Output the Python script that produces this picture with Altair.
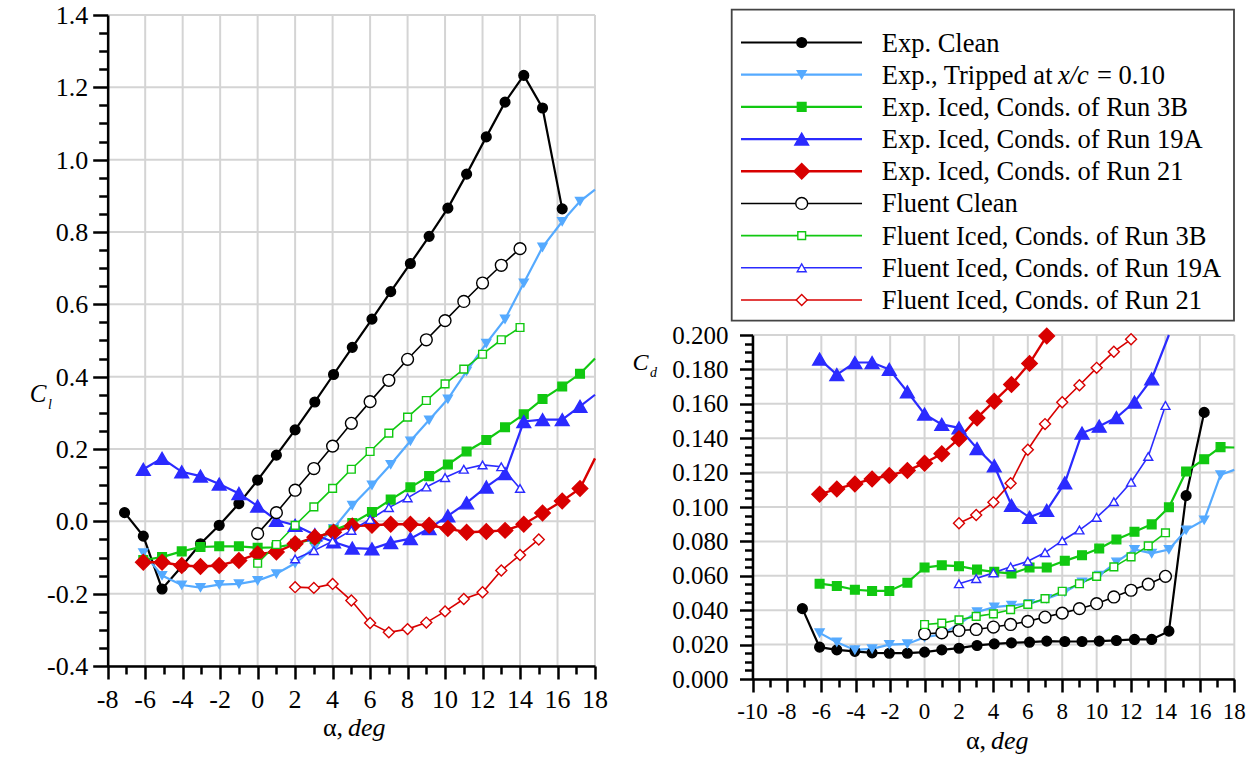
import altair as alt
import pandas as pd

# ---------------- data ----------------
SERIES = [
    "Exp. Clean",
    "Exp., Tripped at x/c = 0.10",
    "Exp. Iced, Conds. of Run 3B",
    "Exp. Iced, Conds. of Run 19A",
    "Exp. Iced, Conds. of Run 21",
    "Fluent Clean",
    "Fluent Iced, Conds. of Run 3B",
    "Fluent Iced, Conds. of Run 19A",
    "Fluent Iced, Conds. of Run 21",
]
COLORS = ["#000000", "#55aaff", "#11c811", "#2b2bff", "#d80000",
          "#000000", "#11c811", "#2b2bff", "#d80000"]
SHAPES = ["circle", "triangle-down", "square", "triangle-up", "diamond",
          "circle", "square", "triangle-up", "diamond"]
FILLS = ["#000000", "#55aaff", "#11c811", "#2b2bff", "#d80000",
         "#ffffff", "#ffffff", "#ffffff", "#ffffff"]
SIZES = [95, 80, 75, 190, 240, 140, 60, 80, 120]
WIDTHS = [2.2, 2.2, 2.2, 2.2, 2.4, 1.6, 1.6, 1.6, 1.6]

# corrected experimental angles (nominal -7 ... 17)
EXP_ALPHA = [-7.1, -6.1, -5.1, -4.05, -3.05, -2.05, -1.0, 0.0, 1.0, 2.0, 3.05,
             4.05, 5.05, 6.1, 7.1, 8.15, 9.15, 10.15, 11.15, 12.2, 13.2, 14.2,
             15.2, 16.25, 17.2]
EDGE = [18.0]

CL_EXP_CLEAN = [0.024, -0.041, -0.187, -0.125, -0.062, -0.011, 0.049, 0.114, 0.183,
                0.253, 0.33, 0.406, 0.481, 0.559, 0.635, 0.713, 0.788, 0.866, 0.96,
                1.063, 1.159, 1.233, 1.143, 0.864]
CD_EXP_CLEAN = [0.0409, 0.0185, 0.0169, 0.0161, 0.0152, 0.015, 0.015, 0.0156, 0.0169,
                0.0179, 0.0195, 0.0204, 0.021, 0.0214, 0.022, 0.0218, 0.0218, 0.022,
                0.0224, 0.023, 0.023, 0.0278, 0.1066, 0.155]

CL_TRIP = [-0.087, -0.15, -0.176, -0.183, -0.175, -0.173, -0.164, -0.145, -0.116,
           -0.071, -0.02, 0.044, 0.1, 0.157, 0.222, 0.28, 0.338, 0.415, 0.492, 0.559,
           0.659, 0.758, 0.829, 0.885, 0.917]
CD_TRIP = [0.0268, 0.0214, 0.0169, 0.0175, 0.02, 0.0204, 0.0243, 0.0259, 0.032, 0.039,
           0.0418, 0.0428, 0.0438, 0.0467, 0.0506, 0.0564, 0.0603, 0.068, 0.0753,
           0.073, 0.0753, 0.0866, 0.0924, 0.1187, 0.1216]

CL_EXP_3B = [-0.107, -0.099, -0.083, -0.071, -0.069, -0.069, -0.073, -0.072, -0.062,
             -0.048, -0.025, -0.005, 0.026, 0.06, 0.094, 0.125, 0.157, 0.193, 0.225,
             0.26, 0.296, 0.338, 0.373, 0.408, 0.45]
CD_EXP_3B = [0.0554, 0.0541, 0.0519, 0.0512, 0.0512, 0.056, 0.0648, 0.0661, 0.0656,
             0.0636, 0.0623, 0.0613, 0.0648, 0.0648, 0.0687, 0.072, 0.0759, 0.0811,
             0.0856, 0.0899, 0.0998, 0.1206, 0.1278, 0.1348, 0.1346]

CL_EXP_19A = [0.144, 0.174, 0.137, 0.125, 0.103, 0.077, 0.042, 0.003, -0.011, -0.037,
              -0.057, -0.074, -0.076, -0.059, -0.048, -0.02, 0.015, 0.051, 0.095,
              0.132, 0.276, 0.281, 0.281, 0.318, 0.35]
CD_EXP_19A = [0.186, 0.177, 0.184, 0.184, 0.18, 0.167, 0.154, 0.148, 0.146, 0.134,
              0.124, 0.101, 0.094, 0.098, 0.114, 0.143, 0.147, 0.152, 0.161, 0.1745,
              0.205]

CL_EXP_21 = [-0.113, -0.113, -0.122, -0.125, -0.122, -0.108, -0.09, -0.085, -0.062,
             -0.044, -0.03, -0.013, -0.011, -0.008, -0.008, -0.011, -0.02, -0.03,
             -0.028, -0.025, -0.008, 0.023, 0.056, 0.091, 0.174]
CD_EXP_21 = [0.1074, 0.1105, 0.1134, 0.1163, 0.1183, 0.1212, 0.1255, 0.1309, 0.1397,
             0.1518, 0.1615, 0.1712, 0.1835, 0.1994]

CL_FL_CLEAN = [-0.034, 0.024, 0.086, 0.146, 0.208, 0.271, 0.331, 0.39, 0.448, 0.502,
               0.555, 0.608, 0.659, 0.708, 0.754]
CD_FL_CLEAN = [0.0263, 0.0268, 0.0282, 0.0288, 0.0302, 0.0317, 0.0335, 0.036, 0.0383,
               0.0409, 0.0438, 0.0477, 0.0516, 0.0551, 0.0597]

CL_FL_3B = [-0.116, -0.064, -0.011, 0.04, 0.091, 0.144, 0.193, 0.244, 0.288, 0.334,
            0.38, 0.421, 0.462, 0.502, 0.536]
CD_FL_3B = [0.0317, 0.0325, 0.0344, 0.0364, 0.0379, 0.0403, 0.0434, 0.0467, 0.051,
            0.0554, 0.0597, 0.0652, 0.071, 0.0774, 0.085]

CL_FL_19A = [-0.104, -0.081, -0.055, -0.025, 0.005, 0.038, 0.065, 0.095, 0.121, 0.144,
             0.156, 0.151, 0.091]
CD_FL_19A = [0.0554, 0.0584, 0.0617, 0.0652, 0.0685, 0.0735, 0.0804, 0.0866, 0.094,
             0.1031, 0.1144, 0.1294, 0.159]

CL_FL_21 = [-0.182, -0.184, -0.173, -0.219, -0.281, -0.307, -0.298, -0.28, -0.249,
            -0.215, -0.196, -0.136, -0.093, -0.05]
CD_FL_21 = [0.0905, 0.0953, 0.1027, 0.1138, 0.1333, 0.1482, 0.1609, 0.1708, 0.1809,
            0.1903, 0.1975]

FL_A0_14 = list(range(0, 15))
FL_A2_14 = list(range(2, 15))
FL_A2_15 = list(range(2, 16))
FL_A2_12 = list(range(2, 13))

CL_SETS = [
    (SERIES[0], EXP_ALPHA[0:24], CL_EXP_CLEAN),
    (SERIES[1], EXP_ALPHA[1:25] + EDGE, CL_TRIP),
    (SERIES[2], EXP_ALPHA[1:25] + EDGE, CL_EXP_3B),
    (SERIES[3], EXP_ALPHA[1:25] + EDGE, CL_EXP_19A),
    (SERIES[4], EXP_ALPHA[1:25] + EDGE, CL_EXP_21),
    (SERIES[5], FL_A0_14, CL_FL_CLEAN),
    (SERIES[6], FL_A0_14, CL_FL_3B),
    (SERIES[7], FL_A2_14, CL_FL_19A),
    (SERIES[8], FL_A2_15, CL_FL_21),
]
CD_SETS = [
    (SERIES[0], EXP_ALPHA[0:24], CD_EXP_CLEAN),
    (SERIES[1], EXP_ALPHA[1:25] + EDGE, CD_TRIP),
    (SERIES[2], EXP_ALPHA[1:25] + EDGE, CD_EXP_3B),
    (SERIES[3], EXP_ALPHA[1:22], CD_EXP_19A),
    (SERIES[4], EXP_ALPHA[1:15], CD_EXP_21),
    (SERIES[5], FL_A0_14, CD_FL_CLEAN),
    (SERIES[6], FL_A0_14, CD_FL_3B),
    (SERIES[7], FL_A2_14, CD_FL_19A),
    (SERIES[8], FL_A2_12, CD_FL_21),
]

LEGEND_TEXT = ["Exp. Clean", "Exp., Tripped at", "Exp. Iced, Conds. of Run 3B",
               "Exp. Iced, Conds. of Run 19A", "Exp. Iced, Conds. of Run 21",
               "Fluent Clean", "Fluent Iced, Conds. of Run 3B",
               "Fluent Iced, Conds. of Run 19A", "Fluent Iced, Conds. of Run 21"]

# ticks, grid lines and tick labels
CL_XTICKS = list(range(-8, 19))
CL_YTICKS = [round(-0.4 + 0.05 * i, 2) for i in range(37)]
CL_GRID_X = list(range(-8, 19, 2))
CL_GRID_Y = [round(-0.4 + 0.2 * i, 1) for i in range(10)]
CL_X_LABELS = ["-8", "-6", "-4", "-2", "0", "2", "4", "6", "8", "10", "12", "14", "16", "18"]
CL_Y_LABELS = ["-0.4", "-0.2", "0.0", "0.2", "0.4", "0.6", "0.8", "1.0", "1.2", "1.4"]
CD_XTICKS = list(range(-10, 19))
CD_YTICKS = [round(0.005 * i, 3) for i in range(41)]
CD_GRID_X = list(range(-10, 19, 2))
CD_GRID_Y = [round(0.02 * i, 2) for i in range(11)]
CD_X_LABELS = ["-10", "-8", "-6", "-4", "-2", "0", "2", "4", "6", "8", "10", "12", "14",
               "16", "18"]
CD_Y_LABELS = ["0.000", "0.020", "0.040", "0.060", "0.080", "0.100", "0.120", "0.140",
               "0.160", "0.180", "0.200"]


def long_df(sets):
    rows = []
    for name, al, vals in sets:
        for a, v in zip(al, vals):
            rows.append({"series": name, "alpha": a, "value": v})
    return pd.DataFrame(rows)


cl_df = long_df(CL_SETS)
cd_df = long_df(CD_SETS)

# ---------------- styling ----------------
FONT = "Liberation Serif"
GRID = "#d4d4d4"
W, H = 1260, 759


def major_test(step):
    return f"abs(datum.value/{step} - round(datum.value/{step})) < 0.001"


def make_axis(orient, offset, values, step, major_len, minor_len):
    t = major_test(step)
    return alt.Axis(
        orient=orient, offset=offset, values=values, grid=False, title=None,
        labels=False,
        tickSize={"condition": {"test": t, "value": major_len}, "value": minor_len},
        tickWidth=2.5, tickColor="black", domainColor="black", domainWidth=2.5,
        zindex=1,
    )


color_enc = alt.Color("series:N", scale=alt.Scale(domain=SERIES, range=COLORS), legend=None)
width_enc = alt.StrokeWidth("series:N", scale=alt.Scale(type="ordinal", domain=SERIES, range=WIDTHS), legend=None)
shape_enc = alt.Shape("series:N", scale=alt.Scale(domain=SERIES, range=SHAPES), legend=None)
fill_enc = alt.Fill("series:N", scale=alt.Scale(domain=SERIES, range=FILLS), legend=None)
size_enc = alt.Size("series:N", scale=alt.Scale(type="ordinal", domain=SERIES, range=SIZES), legend=None)


def panel(df, xdom, xrange, ydom, yrange, xaxis, yaxis, gx, gy, xlabels, ylabels,
          clamp, ymax, xfs, yfs, ydx, xdy):
    xs = alt.Scale(domain=xdom, range=xrange, nice=False, zero=False)
    ys = alt.Scale(domain=ydom, range=yrange, nice=False, zero=False, clamp=clamp)
    vgrid = alt.Chart(pd.DataFrame({"alpha": gx})).mark_rule(
        color=GRID, strokeWidth=2).encode(
        x=alt.X("alpha:Q", scale=xs, axis=xaxis),
        y=alt.Y(datum=ydom[0], scale=ys, axis=yaxis),
        y2=alt.Y2(datum=ydom[1]))
    hgrid = alt.Chart(pd.DataFrame({"value": gy})).mark_rule(
        color=GRID, strokeWidth=2).encode(
        y=alt.Y("value:Q", scale=ys, axis=yaxis),
        x=alt.X(datum=xdom[0], scale=xs, axis=xaxis),
        x2=alt.X2(datum=xdom[1]))
    ylab = alt.Chart(pd.DataFrame({"value": gy, "label": ylabels})).mark_text(
        align="right", baseline="alphabetic", dx=ydx, dy=0.34 * yfs, font=FONT,
        fontSize=yfs, color="black").encode(
        y=alt.Y("value:Q", scale=ys, axis=yaxis),
        x=alt.X(datum=xdom[0], scale=xs, axis=xaxis),
        text="label:N")
    xlab = alt.Chart(pd.DataFrame({"alpha": gx, "label": xlabels})).mark_text(
        align="center", baseline="alphabetic", dy=xdy, font=FONT,
        fontSize=xfs, color="black").encode(
        x=alt.X("alpha:Q", scale=xs, axis=xaxis),
        y=alt.Y(datum=ydom[0], scale=ys, axis=yaxis),
        text="label:N")
    lines = alt.Chart(df).mark_line().encode(
        x=alt.X("alpha:Q", scale=xs, axis=xaxis),
        y=alt.Y("value:Q", scale=ys, axis=yaxis),
        color=color_enc, strokeWidth=width_enc, detail="series:N")
    pts = alt.Chart(df).transform_filter(
        f"datum.alpha < 17.9 && datum.value <= {ymax}"
    ).mark_point(filled=False, opacity=1, fillOpacity=1, strokeWidth=1.4).encode(
        x=alt.X("alpha:Q", scale=xs, axis=xaxis),
        y=alt.Y("value:Q", scale=ys, axis=yaxis),
        color=color_enc, fill=fill_enc, shape=shape_enc, size=size_enc)
    return alt.layer(vgrid, hgrid, ylab, xlab, lines, pts)


# left panel geometry
CLX = [107.7, 595.0]
CLY = [666.0, 15.0]
# right panel geometry
CDX = [752.5, 1234.3]
CDY = [679.0, 335.0]

cl_xaxis = make_axis("bottom", CLY[0] - H, CL_XTICKS, 2, 13, 8)
cl_yaxis = make_axis("left", -CLX[0], CL_YTICKS, 0.2, 15, 9)
cd_xaxis = make_axis("bottom", CDY[0] - H, CD_XTICKS, 2, 13, 8)
cd_yaxis = make_axis("left", -CDX[0], CD_YTICKS, 0.02, 13, 8)

cl_panel = panel(cl_df, [-8, 18], CLX, [-0.4, 1.4], CLY, cl_xaxis, cl_yaxis,
                 CL_GRID_X, CL_GRID_Y, CL_X_LABELS, CL_Y_LABELS, False, 2,
                 26, 26, -19.5, 42)
cd_panel = panel(cd_df, [-10, 18], CDX, [0, 0.2], CDY, cd_xaxis, cd_yaxis,
                 CD_GRID_X, CD_GRID_Y, CD_X_LABELS, CD_Y_LABELS, True, 0.2,
                 23, 25, -24, 40)

# ---------------- legend ----------------
leg_df = pd.DataFrame({"series": SERIES, "label": LEGEND_TEXT, "row": list(range(9))})
ly = alt.Scale(domain=[0, 8], range=[42.5, 300.0], nice=False, zero=False)
one = alt.Data(values=[{"k": 0}])

leg_box = alt.Chart(one).mark_rect(fill="white", stroke="#444444", strokeWidth=1.8).encode(
    x=alt.value(731.7), x2=alt.value(1234.0), y=alt.value(9.6), y2=alt.value(320.7))
leg_lines = alt.Chart(leg_df).mark_rule().encode(
    x=alt.value(741), x2=alt.value(862),
    y=alt.Y("row:Q", scale=ly, axis=None), color=color_enc, strokeWidth=width_enc)
leg_pts = alt.Chart(leg_df).mark_point(filled=False, opacity=1, fillOpacity=1, strokeWidth=1.4).encode(
    x=alt.value(801.7), y=alt.Y("row:Q", scale=ly, axis=None),
    color=color_enc, fill=fill_enc, shape=shape_enc, size=size_enc)
leg_text = alt.Chart(leg_df).mark_text(
    align="left", baseline="alphabetic", dy=9, font=FONT, fontSize=26.5, color="black").encode(
    x=alt.value(881.7), y=alt.Y("row:Q", scale=ly, axis=None), text="label:N")
leg_xc = alt.Chart(one).mark_text(
    text="x/c", align="left", baseline="alphabetic", dy=9, font=FONT, fontSize=26.5,
    fontStyle="italic", color="black").encode(x=alt.value(1058), y=alt.Y(datum=1, scale=ly, axis=None))
leg_eq = alt.Chart(one).mark_text(
    text="= 0.10", align="left", baseline="alphabetic", dy=9, font=FONT, fontSize=26.5,
    color="black").encode(x=alt.value(1097), y=alt.Y(datum=1, scale=ly, axis=None))
legend = alt.layer(leg_box, leg_lines, leg_pts, leg_text, leg_xc, leg_eq)


# ---------------- titles ----------------
def txt(s, x, y, size, style="normal", align="left"):
    return alt.Chart(one).mark_text(
        text=s, align=align, baseline="alphabetic", font=FONT, fontSize=size,
        fontStyle=style, color="black").encode(x=alt.value(x), y=alt.value(y))


titles = alt.layer(
    txt("\u03b1,", 343, 736, 26, align="right"),
    txt("deg", 348, 736, 26, style="italic"),
    txt("\u03b1,", 986, 749, 26, align="right"),
    txt("deg", 991, 749, 26, style="italic"),
    txt("C", 38, 402, 25, style="italic", align="center"),
    txt("l", 48, 409, 14, style="italic"),
    txt("C", 640.5, 370, 24, style="italic", align="center"),
    txt("d", 650, 377, 14, style="italic"),
)

chart = alt.layer(cl_panel, cd_panel, legend, titles).resolve_scale(
    x="independent", y="independent"
).properties(
    width=W, height=H, padding=0, autosize=alt.AutoSizeParams(type="none"),
    background="white",
).configure_view(stroke=None)

chart.save("out.html", embed_options={"renderer": "svg", "actions": False})
